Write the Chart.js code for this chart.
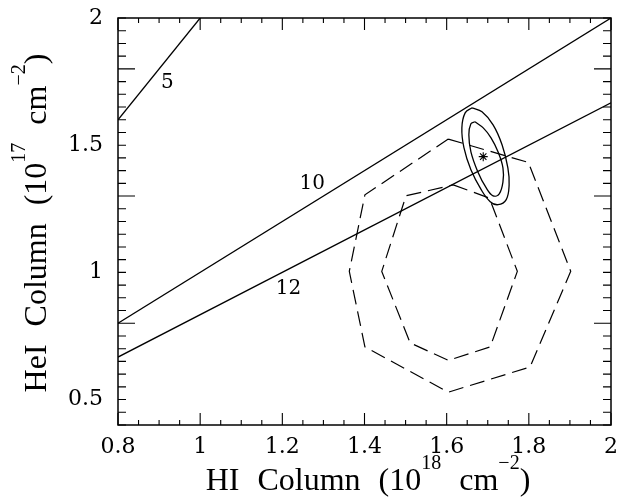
<!DOCTYPE html>
<html>
<head>
<meta charset="utf-8">
<script src="https://cdn.jsdelivr.net/npm/chart.js@4/dist/chart.umd.min.js"></script>
<style>
  html, body { margin:0; padding:0; background:#fff; }
  #c { display:block; }
</style>
</head>
<body>
<canvas id="c" width="624" height="499"></canvas>
<script>
// ---- data ----
const X_TICKS = [0.8, 1, 1.2, 1.4, 1.6, 1.8, 2];
const Y_TICKS = [0.5, 1, 1.5, 2];

// HI/HeI ratio lines (end points)
const RATIO_NAMES = ['5', '10', '12'];
const RATIO_X = [[0.8, 1.0], [0.8, 2.0], [0.8, 2.0]];
const RATIO_Y = [[1.6, 2.0], [0.8, 2.0], [0.667, 1.667]];
const RATIO_LABEL_X = [0.92, 1.273, 1.215];
const RATIO_LABEL_Y = [1.753, 1.354, 0.942];

// dashed confidence octagons
const OUTER_DASH_X = [1.604, 1.799, 1.902, 1.803, 1.604, 1.401, 1.363, 1.401, 1.604];
const OUTER_DASH_Y = [1.524, 1.432, 1.004, 0.628, 0.529, 0.707, 1.004, 1.305, 1.524];
const INNER_DASH_X = [1.616, 1.704, 1.772, 1.706, 1.604, 1.511, 1.442, 1.501, 1.616];
const INNER_DASH_Y = [1.344, 1.292, 1.004, 0.707, 0.654, 0.723, 1.004, 1.301, 1.344];

// solid confidence ellipses
const OUTER_ELL_X = [1.662, 1.686, 1.713, 1.735, 1.749, 1.752, 1.745, 1.725, 1.706, 1.684, 1.659, 1.642, 1.637, 1.645, 1.662];
const OUTER_ELL_Y = [1.647, 1.631, 1.580, 1.501, 1.411, 1.344, 1.286, 1.266, 1.278, 1.325, 1.403, 1.490, 1.568, 1.627, 1.647];
const INNER_ELL_X = [1.669, 1.689, 1.708, 1.725, 1.737, 1.737, 1.728, 1.713, 1.696, 1.676, 1.659, 1.654, 1.659, 1.669];
const INNER_ELL_Y = [1.592, 1.568, 1.529, 1.474, 1.411, 1.356, 1.309, 1.301, 1.333, 1.395, 1.474, 1.541, 1.584, 1.592];

const BEST_X = [1.689];
const BEST_Y = [1.455];

const FONT = "'DejaVu Serif', serif";
const TITLE_FONT = "'Liberation Serif', serif";
const pts = (xs, ys) => xs.map((x, i) => ({ x: x, y: ys[i] }));

const datasets = [];
RATIO_NAMES.forEach((n, i) => {
  datasets.push({ label: 'ratio ' + n, data: pts(RATIO_X[i], RATIO_Y[i]),
    showLine: true, borderColor: '#000', borderWidth: 1.3, pointRadius: 0 });
});
datasets.push({ label: 'outer dash', data: pts(OUTER_DASH_X, OUTER_DASH_Y), showLine: true,
  borderColor: '#000', borderWidth: 1.2, borderDash: [15, 7], pointRadius: 0 });
datasets.push({ label: 'inner dash', data: pts(INNER_DASH_X, INNER_DASH_Y), showLine: true,
  borderColor: '#000', borderWidth: 1.2, borderDash: [15, 7], pointRadius: 0 });
datasets.push({ label: 'outer ellipse', data: pts(OUTER_ELL_X, OUTER_ELL_Y), showLine: true,
  borderColor: '#000', borderWidth: 1.3, pointRadius: 0, tension: 0.4 });
datasets.push({ label: 'inner ellipse', data: pts(INNER_ELL_X, INNER_ELL_Y), showLine: true,
  borderColor: '#000', borderWidth: 1.3, pointRadius: 0, tension: 0.4 });
datasets.push({ label: 'best', data: pts(BEST_X, BEST_Y), showLine: false,
  pointStyle: 'star', pointRadius: 4.5, borderColor: '#000', borderWidth: 1.1, backgroundColor: '#000' });

// title pieces: null = word gap
const X_TITLE = [{ t: 'HI' }, null, { t: 'Column' }, null, { t: '(10' }, { t: '18', sup: true }, null, { t: 'cm' }, { t: '\u22122', sup: true }, { t: ')' }];
const Y_TITLE = [{ t: 'HeI' }, null, { t: 'Column' }, null, { t: '(10' }, { t: '17', sup: true }, null, { t: 'cm' }, { t: '\u22122', sup: true }, { t: ')' }];

function drawRich(ctx, parts, big, small, raise, gap) {
  let w = 0;
  parts.forEach(p => {
    if (!p) { w += gap; return; }
    ctx.font = (p.sup ? small : big) + 'px ' + TITLE_FONT;
    p.w = ctx.measureText(p.t).width; w += p.w;
  });
  let x = -w / 2;
  parts.forEach(p => {
    if (!p) { x += gap; return; }
    ctx.font = (p.sup ? small : big) + 'px ' + TITLE_FONT;
    ctx.fillText(p.t, x, p.sup ? -raise : 0);
    x += p.w;
  });
}

const frame = {
  id: 'frame',
  afterDraw(chart) {
    const { ctx, chartArea: a, scales: { x, y } } = chart;
    ctx.save();
    ctx.strokeStyle = '#000';
    ctx.lineWidth = 1.5;
    ctx.strokeRect(a.left, a.top, a.right - a.left, a.bottom - a.top);
    ctx.lineWidth = 1.1;
    ctx.beginPath();
    for (let k = 0; k <= 24; k++) {
      const v = 0.8 + k * 0.05, px = x.getPixelForValue(v);
      const len = k % 4 === 0 ? 12 : 5;
      ctx.moveTo(px, a.bottom); ctx.lineTo(px, a.bottom - len);
      ctx.moveTo(px, a.top); ctx.lineTo(px, a.top + len);
    }
    for (let k = 0; k <= 32; k++) {
      const v = 0.4 + k * 0.05, py = y.getPixelForValue(v);
      const len = (k + 2) % 10 === 0 ? 17 : 8;
      ctx.moveTo(a.left, py); ctx.lineTo(a.left + len, py);
      ctx.moveTo(a.right, py); ctx.lineTo(a.right - len, py);
    }
    ctx.stroke();

    ctx.fillStyle = '#000';
    ctx.font = '20px ' + FONT;
    ctx.textAlign = 'center';
    ctx.textBaseline = 'alphabetic';
    RATIO_NAMES.forEach((n, i) => {
      ctx.fillText(n, x.getPixelForValue(RATIO_LABEL_X[i]), y.getPixelForValue(RATIO_LABEL_Y[i]) + 7);
    });

    ctx.textAlign = 'left';
    ctx.save();
    ctx.translate(368, 490);
    drawRich(ctx, X_TITLE, 32, 20, 21, 18);
    ctx.restore();
    ctx.save();
    ctx.translate(46, 223);
    ctx.rotate(-Math.PI / 2);
    drawRich(ctx, Y_TITLE, 32, 20, 21, 18);
    ctx.restore();
    ctx.restore();
  }
};

new Chart(document.getElementById('c').getContext('2d'), {
  type: 'scatter',
  data: { datasets: datasets },
  options: {
    responsive: false,
    animation: false,
    layout: { padding: { top: 18, right: 13, left: 0, bottom: 0 } },
    plugins: { legend: { display: false }, tooltip: { enabled: false } },
    scales: {
      x: {
        type: 'linear', min: 0.8, max: 2,
        afterFit: s => { s.height = 74; s.paddingLeft = 0; s.paddingRight = 0; },
        afterBuildTicks: s => { s.ticks = X_TICKS.map(v => ({ value: v })); },
        grid: { display: false, drawTicks: false },
        border: { display: false },
        ticks: { color: '#000', font: { family: FONT, size: 22 }, padding: 9, maxRotation: 0,
          callback: v => String(v) }
      },
      y: {
        type: 'linear', min: 0.4, max: 2,
        afterFit: s => { s.width = 118; s.paddingTop = 0; s.paddingBottom = 0; },
        afterBuildTicks: s => { s.ticks = Y_TICKS.map(v => ({ value: v })); },
        grid: { display: false, drawTicks: false },
        border: { display: false },
        ticks: { color: '#000', font: { family: FONT, size: 22 }, padding: 15,
          callback: v => String(v) }
      }
    }
  },
  plugins: [frame]
});
</script>
</body>
</html>
